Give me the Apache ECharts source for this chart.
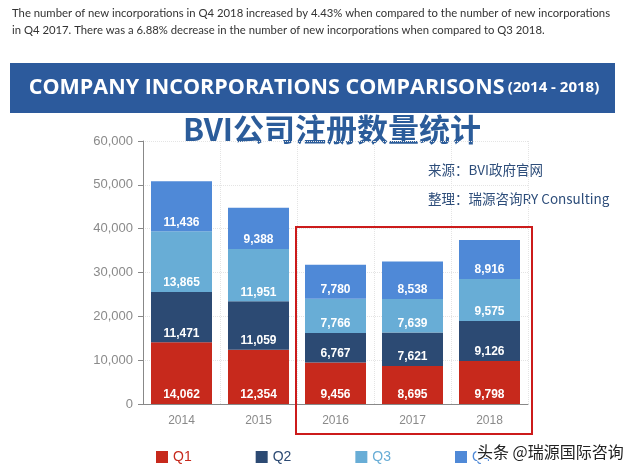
<!DOCTYPE html>
<html>
<head>
<meta charset="utf-8">
<style>html,body{margin:0;padding:0;background:#fff}#c{width:640px;height:475px}</style>
<script src="https://cdn.jsdelivr.net/npm/echarts@6/dist/echarts.min.js"></script>
</head>
<body>
<div id="c"></div>
<script>
var years = ['2014', '2015', '2016', '2017', '2018'];
var q1 = [14062, 12354, 9456, 8695, 9798];
var q2 = [11471, 11059, 6767, 7621, 9126];
var q3 = [13865, 11951, 7766, 7639, 9575];
var q4 = [11436, 9388, 7780, 8538, 8916];
var seriesNames = ['Q1', 'Q2', 'Q3', 'Q4'];
var yTicks = [0, 10000, 20000, 30000, 40000, 50000, 60000];

var colors = ['#c7291c', '#2c4a73', '#68add6', '#4f89d7'];
var chart = echarts.init(document.getElementById('c'));
function fmt(v){ return Number(v).toLocaleString('en-US'); }
var dataSets = [q1, q2, q3, q4];
var series = dataSets.map(function(d, i){
  return {
    name: seriesNames[i], type: 'bar', stack: 'total', data: d, barWidth: 61,
    itemStyle: { color: colors[i] },
    label: { show: true, position: 'insideBottom', distance: 3, color: '#fff',
      fontFamily: 'Arial, Liberation Sans', fontSize: 12, fontWeight: 'bold',
      formatter: function(p){ return fmt(p.value); } }
  };
});
chart.setOption({
  backgroundColor: '#fff',
  animation: false,
  grid: { left: 143, right: 112, top: 141, bottom: 71, containLabel: false },
  legend: {
    left: 151, top: 445, itemWidth: 12, itemHeight: 12, itemGap: 64,
    icon: 'rect',
    textStyle: { fontFamily: 'Arial, Liberation Sans', fontSize: 14 },
    data: seriesNames.map(function(n, i){ return { name: n, textStyle: { color: colors[i] } }; })
  },
  xAxis: {
    type: 'category', data: years,
    axisLine: { lineStyle: { color: '#888' } },
    axisTick: { alignWithLabel: true, lineStyle: { color: '#888' } },
    axisLabel: { color: '#8a8a8a', fontFamily: 'Arial, Liberation Sans', fontSize: 12, margin: 11 },
    splitLine: { show: true, lineStyle: { color: '#e4e4e4', type: 'dotted' } }
  },
  yAxis: {
    type: 'value', min: yTicks[0], max: yTicks[yTicks.length-1], interval: 10000,
    axisLine: { show: true, lineStyle: { color: '#888' } },
    axisTick: { show: true, lineStyle: { color: '#888' } },
    axisLabel: { color: '#8a8a8a', fontFamily: 'Arial, Liberation Sans', fontSize: 13, margin: 10,
      formatter: function(v){ return fmt(v); } },
    splitLine: { show: true, lineStyle: { color: '#e4e4e4', type: 'dotted' } }
  },
  series: series,
  graphic: [
    { type: 'text', left: 12, top: 5, style: { text: 'The number of new incorporations in Q4 2018 increased by 4.43% when compared to the number of new incorporations\nin Q4 2017. There was a 6.88% decrease in the number of new incorporations when compared to Q3 2018.',
      fill: '#333', font: '11.3px Lato, "Open Sans", sans-serif', lineHeight: 17 } },
    { type: 'rect', shape: { x: 10, y: 63, width: 605, height: 50 }, style: { fill: '#2c5a9c' } },
    { type: 'text', x: 314, y: 88, style: {
      text: '{a|COMPANY INCORPORATIONS COMPARISONS} {b|(2014 - 2018)}',
      align: 'center', verticalAlign: 'middle',
      rich: { a: { fill: '#fff', font: 'bold 21.5px "Open Sans", Lato, sans-serif' },
              b: { fill: '#fff', font: 'bold 15px "Open Sans", Lato, sans-serif' } } } },
    { type: 'text', x: 332, y: 129, style: { text: 'BVI公司注册数量统计', align: 'center', verticalAlign: 'middle',
      fill: '#2b5c9a', font: 'bold 31px "Noto Sans CJK SC", sans-serif' } },
    { type: 'text', x: 428, y: 170, style: { text: '来源：BVI政府官网', verticalAlign: 'middle',
      fill: '#2d4d7a', font: '13.5px "Noto Sans CJK SC", sans-serif' } },
    { type: 'text', x: 428, y: 199, style: { text: '整理：瑞源咨询RY Consulting', verticalAlign: 'middle',
      fill: '#2d4d7a', font: '13.5px "Noto Sans CJK SC", sans-serif' } },
    { type: 'rect', shape: { x: 296, y: 227, width: 236, height: 207 }, style: { fill: 'none', stroke: '#cc1b1b', lineWidth: 2 }, z: 100 },
    { type: 'text', x: 477, y: 452, style: { text: '头条 @瑞源国际咨询', verticalAlign: 'middle',
      fill: '#222', stroke: '#fff', lineWidth: 3, font: '16px "Noto Sans CJK SC", sans-serif' }, z: 200 }
  ]
});
</script>
</body>
</html>
